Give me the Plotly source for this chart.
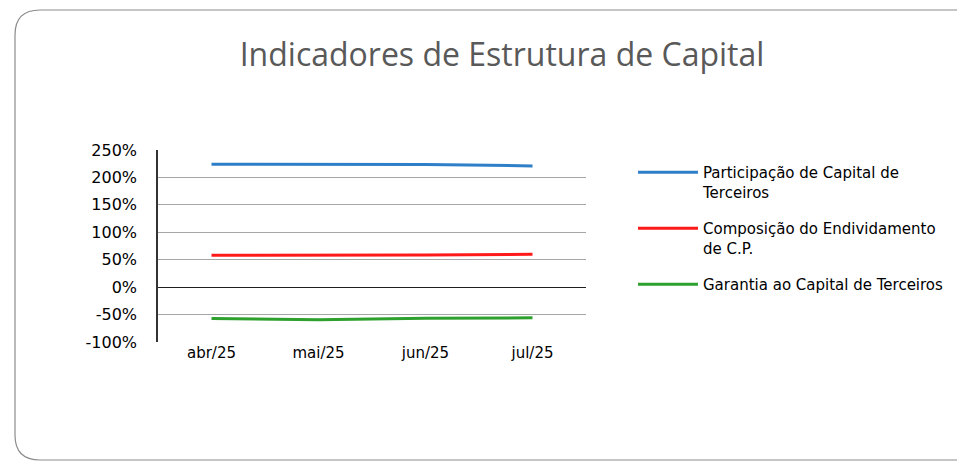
import plotly.graph_objects as go

# dados
meses = ["abr/25", "mai/25", "jun/25", "jul/25"]
part_capital_terceiros = [224, 224, 223.5, 221]
composicao_endividamento = [58, 58, 58.5, 60]
garantia_capital_terceiros = [-57, -59.5, -56.5, -56]

ticks_y = [-100, -50, 0, 50, 100, 150, 200, 250]
rotulos_y = ["-100%", "-50%", "0%", "50%", "100%", "150%", "200%", "250%"]

nomes = ["Participação de Capital de<br>Terceiros",
         "Composição do Endividamento<br>de C.P.",
         "Garantia ao Capital de Terceiros"]
cores = ["#2F7FC8", "#FF1A1A", "#2EA02E"]

W, H = 965, 463
OFF = 8  # margem do body da página
L, R, T, B = 158 - OFF, 586 - OFF, 150 - OFF, 342 - OFF
pw, ph = R - L, B - T

def px(x):
    return (x - OFF - L) / pw

def py(y):
    return (B - (y - OFF)) / ph

fig = go.Figure()
for i, (serie, nome, cor) in enumerate(zip([part_capital_terceiros, composicao_endividamento,
                                            garantia_capital_terceiros], nomes, cores)):
    fig.add_trace(go.Scatter(x=meses, y=serie, name=nome, mode="lines", legendgroup=str(i),
                             line=dict(color=cor, width=3), hoverinfo="x+y"))

# moldura arredondada
x0, x1, y0, y1, r = 15, 985, 10, 460, 25
rx, ry = r / pw, r / ph
path = (f"M {px(x0)+rx},{py(y0)} L {px(x1)-rx},{py(y0)} "
        f"Q {px(x1)},{py(y0)} {px(x1)},{py(y0)-ry} L {px(x1)},{py(y1)+ry} "
        f"Q {px(x1)},{py(y1)} {px(x1)-rx},{py(y1)} L {px(x0)+rx},{py(y1)} "
        f"Q {px(x0)},{py(y1)} {px(x0)},{py(y1)+ry} L {px(x0)},{py(y0)-ry} "
        f"Q {px(x0)},{py(y0)} {px(x0)+rx},{py(y0)} Z")
fig.add_shape(type="path", path=path, xref="paper", yref="paper",
              line=dict(color="#8C8C8C", width=1.2), layer="below")

fig.update_layout(
    width=W, height=H,
    margin=dict(l=L, r=W - R, t=T, b=H - B),
    paper_bgcolor="white", plot_bgcolor="white",
    font=dict(family="DejaVu Sans", size=14, color="#000000"),
    title=dict(text="Indicadores de Estrutura de Capital", x=(502 - OFF) / W, xanchor="center",
               y=1 - (55 - OFF) / H, yanchor="middle",
               font=dict(family="Open Sans", size=32, color="#595959")),
    showlegend=True,
    legend=dict(x=px(633), y=py(156), xanchor="left", yanchor="top",
                font=dict(family="DejaVu Sans", size=15, color="#000000"),
                bgcolor="rgba(0,0,0,0)", valign="top", itemwidth=60,
                tracegroupgap=14),
    xaxis=dict(type="category", showgrid=False, showline=False, ticks="",
               tickfont=dict(size=15), range=[-0.5, 3.5]),
    yaxis=dict(range=[-100, 250], tickvals=ticks_y, ticktext=rotulos_y, showgrid=True,
               gridcolor="#A6A6A6", gridwidth=1, zeroline=True,
               zerolinecolor="#202020", zerolinewidth=1.3,
               showline=True, linecolor="#333333", linewidth=1.5,
               tickfont=dict(size=16), ticks="", ticklabelstandoff=16),
)

fig.write_html("out.html")
